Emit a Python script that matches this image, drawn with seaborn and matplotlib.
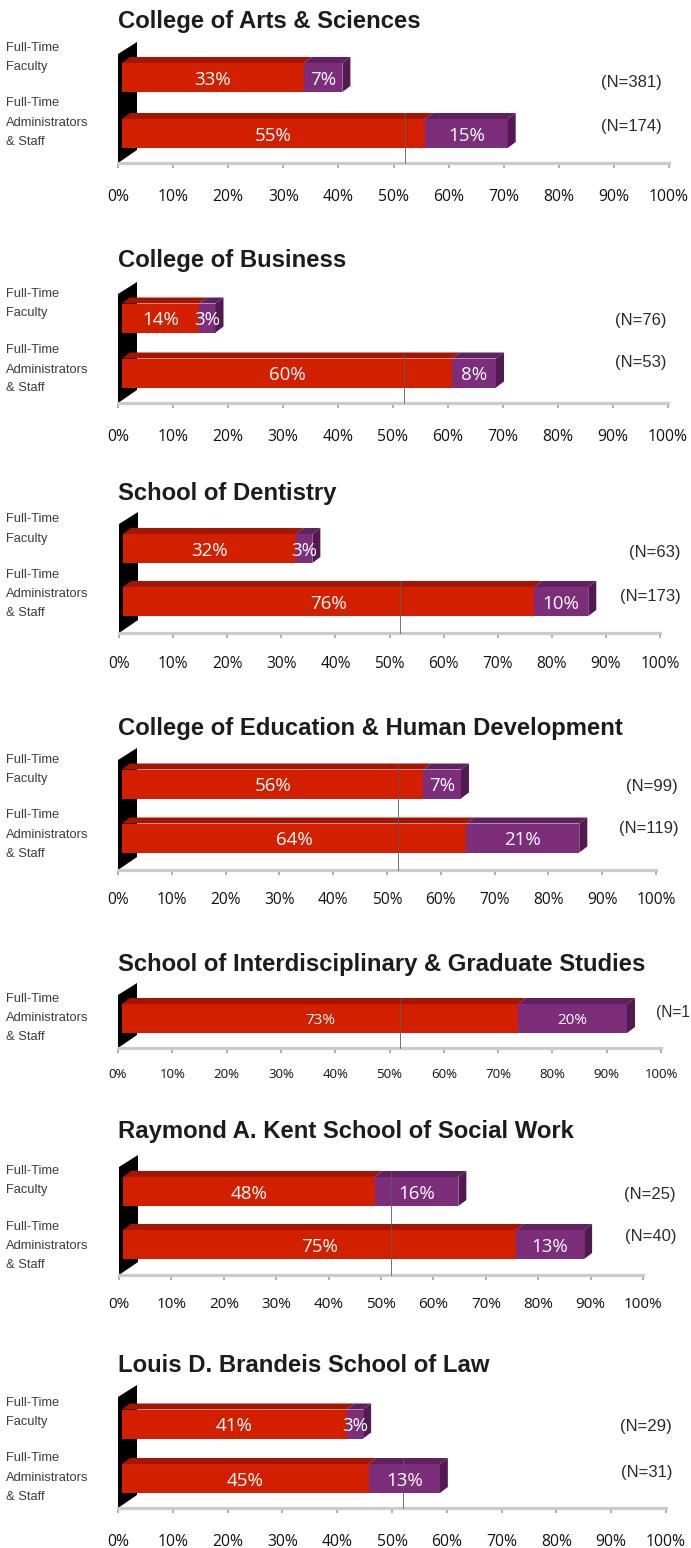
import matplotlib
matplotlib.use("Agg")
import matplotlib.pyplot as plt
import seaborn as sns
import pandas as pd
from matplotlib.patches import Polygon
from matplotlib import font_manager

sns.set_style("white")
plt.rcParams["font.family"] = ["Liberation Sans", "DejaVu Sans"]
_names = {f.name for f in font_manager.fontManager.ttflist}
if "Liberation Sans Narrow" in _names:
    CAT_FAMILY, CAT_FS = "Liberation Sans Narrow", 10.8
else:
    CAT_FAMILY, CAT_FS = "Liberation Sans", 9.3

# ---------------- data ----------------
panel_titles = [
    "College of Arts & Sciences",
    "College of Business",
    "School of Dentistry",
    "College of Education & Human Development",
    "School of Interdisciplinary & Graduate Studies",
    "Raymond A. Kent School of Social Work",
    "Louis D. Brandeis School of Law",
]
FAC = "Full-Time\nFaculty"
ADM = "Full-Time\nAdministrators\n& Staff"
panel_groups = [[FAC, ADM], [FAC, ADM], [FAC, ADM], [FAC, ADM], [ADM], [FAC, ADM], [FAC, ADM]]
red_values = [[33, 55], [14, 60], [32, 76], [56, 64], [73], [48, 75], [41, 45]]
purple_values = [[7, 15], [3, 8], [3, 10], [7, 21], [20], [16, 13], [3, 13]]
n_labels = [["(N=381)", "(N=174)"], ["(N=76)", "(N=53)"], ["(N=63)", "(N=173)"],
            ["(N=99)", "(N=119)"], ["(N=1"], ["(N=25)", "(N=40)"], ["(N=29)", "(N=31)"]]
tick_values = list(range(0, 101, 10))
tick_labels = ["0%", "10%", "20%", "30%", "40%", "50%", "60%", "70%", "80%", "90%", "100%"]

# ---------------- layout (pixels) ----------------
W, H = 691, 1548
x0s = [118, 118, 119, 118, 118, 119, 118]
x100s = [669, 668, 660, 656, 661, 643, 666]
wall_y = [42, 282, 512, 748, 983, 1155, 1385]
axis_y = [163, 403, 633, 870, 1048, 1275, 1508]
front_centers = [[77.5, 133.5], [318, 373], [548.5, 601.5], [784, 838], [1018.5],
                 [1191.5, 1244.5], [1424, 1478.5]]
title_base = [28, 267, 500, 735, 971, 1138, 1372]
ticklab_y = [197, 437, 664, 900, 1075, 1305, 1542]
label_lines = [
    [[48, 67], [103, 123, 142]],
    [[294, 313], [350, 370, 388]],
    [[519, 539], [575, 594, 613]],
    [[760, 779], [815, 835, 854]],
    [[999, 1018, 1037]],
    [[1171, 1190], [1227, 1246, 1265]],
    [[1403, 1422], [1458, 1478, 1497]],
]
n_pos = [
    [(662, 82, "right"), (662, 126, "right")],
    [(667, 320, "right"), (667, 362, "right")],
    [(681, 552, "right"), (681, 597, "right")],
    [(678, 786, "right"), (679, 829, "right")],
    [(656, 1012, "left")],
    [(676, 1195, "right"), (676, 1237, "right")],
    [(672, 1427, "right"), (672, 1472, "right")],
]
n_fs = [12, 12, 12, 12, 11.2, 12, 12]
bar_fs = [13.5, 13.5, 13.5, 13.5, 11, 13.5, 13.5]
tick_fs = [11.3, 11.3, 11.2, 11.2, 9.5, 11.0, 11.3]
FRONT_H = 29
DX, DY = 8, 6
OFF = 4  # perspective shift of the front face, px

RED = "#d11f00"
RED_TOP = "#a51500"
PUR = "#7c2e7a"
PUR_TOP = "#5f2160"
PUR_SIDE = "#531a52"

fig = plt.figure(figsize=(W / 100, H / 100), dpi=100)
fig.patch.set_facecolor("white")


def fx(x):
    return x / W


def fy(y):
    return 1 - y / H


for i in range(len(panel_titles)):
    x0, x1 = x0s[i], x100s[i]
    yt, yb = wall_y[i], axis_y[i]
    ax = fig.add_axes([fx(x0), fy(yb), (x1 - x0) / W, (yb - yt) / H])
    cs = front_centers[i]
    u = cs[1] - cs[0] if len(cs) > 1 else 55.0
    bw = FRONT_H / u

    keys = [f"g{j}" for j in range(len(panel_groups[i]))]
    df = pd.DataFrame({"group": keys, "red": red_values[i], "purple": purple_values[i]})
    df["total"] = df["red"] + df["purple"]

    sns.barplot(data=df, x="total", y="group", orient="h", color=PUR, saturation=1,
                width=bw, errorbar=None, ax=ax, zorder=3, linewidth=0)
    sns.barplot(data=df, x="red", y="group", orient="h", color=RED, saturation=1,
                width=bw, errorbar=None, ax=ax, zorder=3, linewidth=0)
    ax.set_xlim(0, 100)
    ax.set_ylim((yb - cs[0]) / u, (yt - cs[0]) / u)

    px = (x1 - x0) / 100.0
    dx = DX / px
    dy = DY / u
    off = OFF / px
    n = len(df)
    tot_patches = ax.patches[:n]
    red_patches = ax.patches[n:2 * n]
    for p in tot_patches + red_patches:
        p.set_x(p.get_x() + off)
    for tp, rp in zip(tot_patches, red_patches):
        top = tp.get_y()
        bot = tp.get_y() + tp.get_height()
        a = rp.get_x()
        r = rp.get_x() + rp.get_width()
        t = tp.get_x() + tp.get_width()
        ax.add_patch(Polygon([(a, top), (a + dx, top - dy), (r + dx, top - dy), (r, top)],
                             closed=True, facecolor=RED_TOP, edgecolor="none", zorder=3.5, clip_on=False))
        ax.add_patch(Polygon([(r, top), (r + dx, top - dy), (t + dx, top - dy), (t, top)],
                             closed=True, facecolor=PUR_TOP, edgecolor="none", zorder=3.5, clip_on=False))
        ax.add_patch(Polygon([(t, top), (t + dx, top - dy), (t + dx, bot - dy), (t, bot)],
                             closed=True, facecolor=PUR_SIDE, edgecolor="none", zorder=3.5, clip_on=False))

    # black back wall
    wd = 19 / px
    ylo, yhi = ax.get_ylim()
    ax.add_patch(Polygon([(0, yhi + 12 / u), (wd, yhi), (wd, ylo - 13 / u), (0, ylo)],
                         closed=True, facecolor="black", edgecolor="none", zorder=2, clip_on=False))

    # thin reference line at ~52%
    first = None
    for tp in tot_patches:
        if tp.get_x() + tp.get_width() >= 52:
            first = tp
            break
    if first is not None:
        ax.plot([52, 52], [first.get_y() - dy, ylo], color="#5a5a5a", lw=0.6, zorder=4, clip_on=False)

    # bar labels
    for j in range(n):
        r = red_values[i][j]
        p = purple_values[i][j]
        ax.annotate(f"{r}%", (off + r / 2, j), xytext=(0, -1.5), textcoords="offset points",
                    ha="center", va="center", color="white", fontsize=bar_fs[i],
                    fontfamily="Open Sans", zorder=6)
        ax.annotate(f"{p}%", (off + r + p / 2, j), xytext=(0, -1.5), textcoords="offset points",
                    ha="center", va="center", color="white", fontsize=bar_fs[i],
                    fontfamily="Open Sans", zorder=6)

    # axes styling
    for s in ["top", "right", "left"]:
        ax.spines[s].set_visible(False)
    ax.spines["bottom"].set_color("#cbcbcb")
    ax.spines["bottom"].set_linewidth(2.3)
    ax.set_xlabel("")
    ax.set_ylabel("")
    ax.set_yticks([])
    ax.set_xticks(tick_values)
    ax.set_xticklabels(tick_labels, fontfamily="Open Sans", fontsize=tick_fs[i], color="#111111")
    tick_len = 5
    ax.tick_params(axis="x", bottom=True, direction="out", length=tick_len * 0.72, width=1.3,
                   color="#a8a8a8", pad=(ticklab_y[i] - yb - tick_len) * 0.72)
    for lab in ax.get_xticklabels():
        lab.set_va("center")
    ax.set_facecolor("none")
    ax.grid(False)

    # title
    fig.text(fx(118), fy(title_base[i]), panel_titles[i], ha="left", va="baseline",
             fontsize=17.2, fontweight="bold", color="#1c1c1c")

    # category labels
    for g, ys in zip(panel_groups[i], label_lines[i]):
        for line, y in zip(g.split("\n"), ys):
            fig.text(fx(6), fy(y), line, ha="left", va="center", fontsize=CAT_FS,
                     color="#3c3c3c", family=CAT_FAMILY)

    # N labels
    for lbl, (nx, ny, ha) in zip(n_labels[i], n_pos[i]):
        fig.text(fx(nx), fy(ny), lbl, ha=ha, va="center", fontsize=n_fs[i], color="#2a2a2a")

fig.savefig("out.png", dpi=100, facecolor="white")
